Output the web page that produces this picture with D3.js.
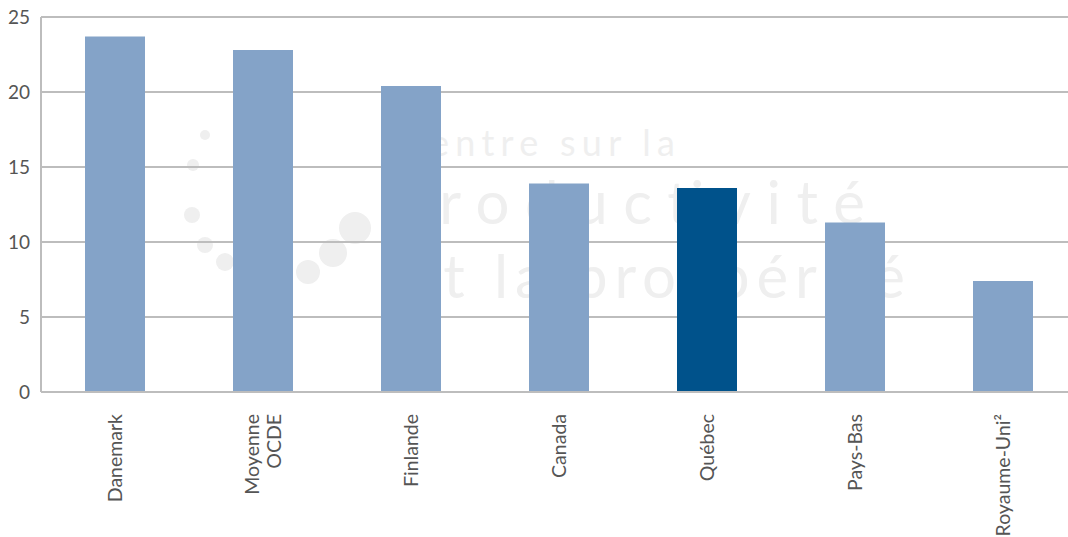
<!DOCTYPE html>
<html><head><meta charset="utf-8">
<script src="https://cdn.jsdelivr.net/npm/d3@7"></script>
<style>body{margin:0;background:#fff}svg{display:block}</style>
</head><body>
<svg id="c" width="1068" height="537"></svg>
<script>
const categories = [["Danemark"], ["Moyenne", "OCDE"], ["Finlande"], ["Canada"], ["Québec"], ["Pays-Bas"], ["Royaume-Uni²"]];
const values = [23.7, 22.8, 20.4, 13.9, 13.6, 11.3, 7.4];
const highlight = [false, false, false, false, true, false, false];
const yTicks = [0, 5, 10, 15, 20, 25];

const svg = d3.select("#c");
const pL = 41, pR = 1068, pT = 17, pB = 392;
const y = d3.scaleLinear().domain([0, 25]).range([pB, pT]);
const x = d3.scaleBand().domain(d3.range(categories.length))
  .range([41, 1077]).paddingInner(0.5946).paddingOuter(0.2973);

// watermark
const wm = svg.append("g").attr("fill", "#efefef").attr("font-family", "Lato, 'Open Sans', sans-serif");
[[205,135,5],[193,165,6],[192,215,8],[205,245,8],[225,262,9],[308,272,12],[333,253,14],[355,228,16]].forEach(d =>
  wm.append("circle").attr("cx", d[0]).attr("cy", d[1]).attr("r", d[2]));
wm.append("text").attr("x", 400).attr("y", 156).attr("font-size", 36).attr("textLength", 275).text("Centre sur la");
wm.append("text").attr("x", 390).attr("y", 224).attr("font-size", 60).attr("textLength", 475).text("productivité");
wm.append("text").attr("x", 405).attr("y", 298).attr("font-size", 60).attr("textLength", 500).text("et la prospérité");

// gridlines
svg.append("g").selectAll("line").data(yTicks).join("line")
  .attr("x1", pL).attr("x2", pR)
  .attr("y1", d => y(d)).attr("y2", d => y(d))
  .attr("stroke", "#bdbdbd").attr("stroke-width", 2);
svg.append("line").attr("x1", pL).attr("x2", pL).attr("y1", pT).attr("y2", pB)
  .attr("stroke", "#bdbdbd").attr("stroke-width", 2);

// y labels
svg.append("g").selectAll("text").data(yTicks).join("text")
  .attr("x", 30).attr("y", d => y(d)).attr("dy", "0.35em")
  .attr("text-anchor", "end").attr("font-size", 19).attr("fill", "#555")
  .attr("font-family", "Lato, 'Open Sans', sans-serif").text(d => d);

// bars
svg.append("g").selectAll("rect").data(values).join("rect")
  .attr("x", (d, i) => x(i)).attr("width", x.bandwidth())
  .attr("y", d => y(d)).attr("height", d => pB - y(d))
  .attr("fill", (d, i) => highlight[i] ? "#00528b" : "#84a3c8");

// redraw baseline on top
svg.append("line").attr("x1", pL).attr("x2", pR).attr("y1", pB).attr("y2", pB)
  .attr("stroke", "#bdbdbd").attr("stroke-width", 2);

// x labels
const xl = svg.append("g").attr("font-family", "Lato, 'Open Sans', sans-serif")
  .attr("font-size", 19.5).attr("fill", "#555");
categories.forEach((lines, i) => {
  const cx = x(i) + x.bandwidth() / 2;
  const t = xl.append("text").attr("text-anchor", "end")
    .attr("transform", `translate(${cx},414) rotate(-90)`);
  const n = lines.length;
  lines.forEach((s, j) => {
    t.append("tspan").attr("x", 0)
      .attr("y", (j - (n - 1) / 2) * 22)
      .attr("dy", "0.35em").text(s);
  });
});
</script>
</body></html>
